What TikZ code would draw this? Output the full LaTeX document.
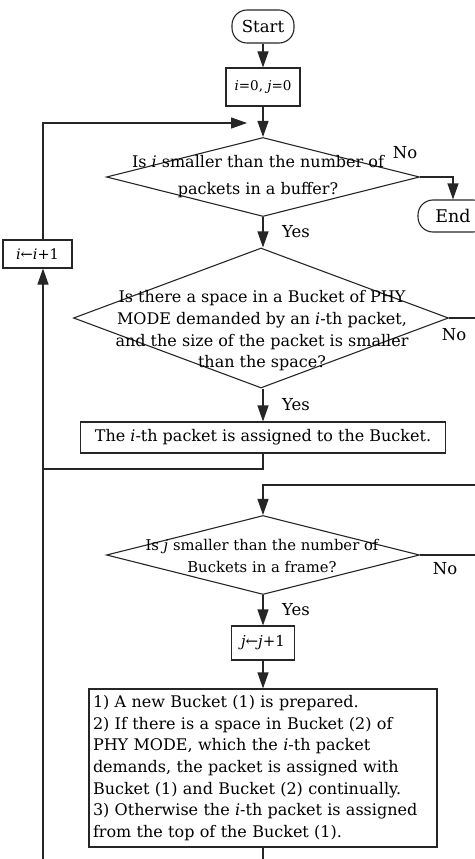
\documentclass[tikz,border=0pt]{standalone}
\usepackage{fontspec}
\setmainfont{DejaVu Serif}
\usetikzlibrary{shapes.geometric,arrows.meta}
\newcommand{\flowfont}{\fontsize{16}{21.7}\selectfont}
\newcommand{\smallflowfont}{\fontsize{14.8}{22}\selectfont}
\begin{document}
\begin{tikzpicture}[x=1pt,y=-1pt,
  line/.style={draw=black!85, line width=1.1pt},
  arr/.style={line, -{Triangle[length=16pt,width=11pt]}},
  box/.style={draw=black!85, line width=1.1pt, rectangle, inner sep=0pt, font=\flowfont},
  term/.style={box, rounded corners=15pt, font=\fontsize{16.5}{20}\selectfont},
  dia/.style={draw=black!85, line width=1.1pt, diamond, inner sep=0pt},
  txt/.style={font=\flowfont, align=center, inner sep=0pt},
  lab/.style={font=\fontsize{16.5}{20}\selectfont, inner sep=0pt}]
\useasboundingbox (0,0) rectangle (474,859);

% terminals and steps
\node[term, minimum width=62pt, minimum height=33pt] (start) at (263,26.5) {Start};
\node[box, minimum width=74pt, minimum height=38pt, font=\fontsize{13.5}{16}\selectfont] (init) at (263,87) {\textit{i}=0, \textit{j}=0};
\node[dia, minimum width=313pt, minimum height=79pt] (d1) at (263,177) {};
\node[txt, font=\fontsize{16}{27}\selectfont] (t1) at (258,177) {Is \textit{i} smaller than the number of\\packets in a buffer?};
\node[term, minimum width=70pt, minimum height=32pt, font=\fontsize{17.5}{20}\selectfont] (end) at (453,216) {End};
\node[box, minimum width=69pt, minimum height=28pt, font=\fontsize{14.5}{16}\selectfont] (ibox) at (37.5,254) {\textit{i}←\textit{i}+1};

\node[dia, minimum width=375pt, minimum height=140pt] (d2) at (261,318) {};
\node[txt] (t2) at (262,331) {Is there a space in a Bucket of PHY\\MODE demanded by an \textit{i}-th packet,\\and the size of the packet is smaller\\than the space?};
\node[box, minimum width=365pt, minimum height=31pt] (assign) at (263,437.5) {The \textit{i}-th packet is assigned to the Bucket.};

\node[dia, minimum width=313pt, minimum height=79pt] (d3) at (263,555) {};
\node[txt, font=\smallflowfont] (t3) at (262,556) {Is \textit{j} smaller than the number of\\Buckets in a frame?};
\node[box, minimum width=63pt, minimum height=34pt, font=\fontsize{15}{16}\selectfont] (jbox) at (263,643) {\textit{j}←\textit{j}+1};
\node[box, text width=340pt, inner xsep=4pt, align=left, minimum height=158pt] (big) at (263,768)
  {1) A new Bucket (1) is prepared.\\
   2) If there is a space in Bucket (2) of\\
   PHY MODE, which the \textit{i}-th packet\\
   demands, the packet is assigned with\\
   Bucket (1) and Bucket (2) continually.\\
   3) Otherwise the \textit{i}-th packet is assigned\\
   from the top of the Bucket (1).};

% branch labels
\node[lab] (no1) at (405,153) {No};
\node[lab] (yes1) at (296,232) {Yes};
\node[lab] (no2) at (454,335) {No};
\node[lab] (yes2) at (296,405) {Yes};
\node[lab] (no3) at (445,569) {No};
\node[lab] (yes3) at (296,610) {Yes};

% joints and free ends
\coordinate (ltop) at (43,123);
\coordinate (merge) at (247,123);
\coordinate (lj) at (43,469);
\coordinate (lbot) at (43,866);
\coordinate (d2out) at (480,318);
\coordinate (rin) at (480,485);
\coordinate (d3out) at (480,555);
\coordinate (bbot) at (263,866);

% connectors
\draw[arr] (start) -- (init);
\draw[arr] (init) -- (d1);
\draw[arr] (d1.east) -| (end.north);
\draw[arr] (d1.south) -- (d2.north -| d1.south);
\draw[line] (d2.east) -- (d2out);
\draw[arr] (d2.south -| assign.north) -- (assign.north);
\draw[line] (assign.south) |- (lj);
\draw[line] (lbot) -- (lj);
\draw[arr] (lj) -- (ibox.south -| lj);
\draw[arr] (ibox.north -| ltop) |- (merge);
\draw[arr] (rin) -| (d3.north);
\draw[line] (d3.east) -- (d3out);
\draw[arr] (d3.south) -- (jbox.north);
\draw[arr] (jbox.south) -- (big.north);
\draw[line] (big.south) -- (bbot);
\end{tikzpicture}
\end{document}
